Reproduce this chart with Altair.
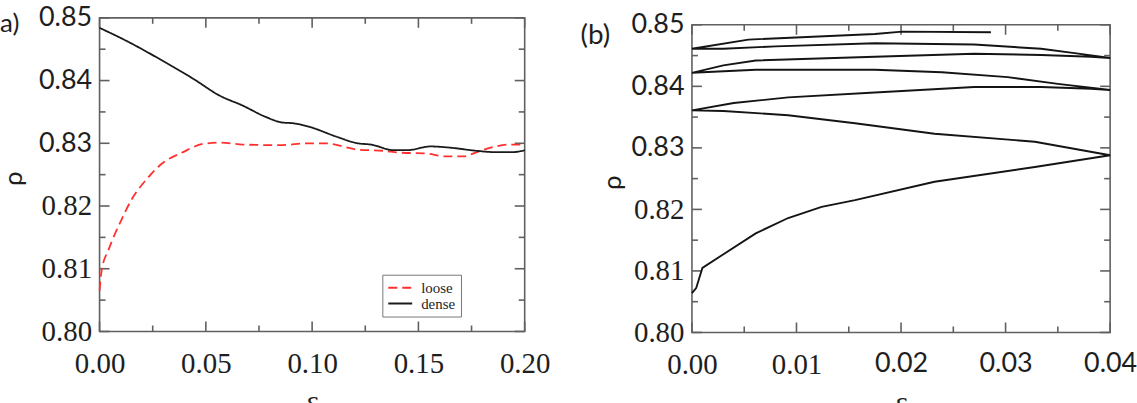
import altair as alt
import pandas as pd

# ---------------- panel (a): density rho vs strain eps ----------------
eps_loose = [0.0, 0.001, 0.0042, 0.0103, 0.015, 0.023, 0.0284, 0.0393, 0.0487, 0.0565,
             0.0674, 0.0846, 0.0987, 0.1057, 0.1213, 0.1338, 0.1416, 0.1526, 0.1635,
             0.1713, 0.1775, 0.1853, 0.1931, 0.2000]
rho_loose = [0.8065, 0.8098, 0.8130, 0.8178, 0.8210, 0.8246, 0.8265, 0.8286, 0.8299, 0.8301,
             0.8298, 0.8297, 0.8300, 0.8300, 0.8290, 0.8288, 0.8285, 0.8284, 0.8279,
             0.8279, 0.8286, 0.8294, 0.8298, 0.8298]

eps_dense = [0.0, 0.0128, 0.0284, 0.0440, 0.0565, 0.0674, 0.0782, 0.0862, 0.0909, 0.0979,
             0.1119, 0.1213, 0.1276, 0.1385, 0.1447, 0.1557, 0.1650, 0.1775, 0.1853,
             0.1947, 0.2000]
rho_dense = [0.8484, 0.8463, 0.8434, 0.8403, 0.8376, 0.8360, 0.8342, 0.8333, 0.8332, 0.8327,
             0.8310, 0.8300, 0.8298, 0.8289, 0.8289, 0.8295, 0.8293, 0.8288, 0.8286,
             0.8286, 0.8289]

# ---------------- panel (b): cyclic shear path ----------------
eps_cycle = [0.0, 0.0004, 0.001, 0.0029, 0.0061, 0.0092, 0.0124, 0.0156, 0.0232, 0.0328, 0.04,
             0.0328, 0.0232, 0.0156, 0.0092, 0.003, 0.0,
             0.004, 0.0092, 0.0175, 0.027, 0.0334, 0.0382, 0.04,
             0.035, 0.0302, 0.0239, 0.0175, 0.0061, 0.0,
             0.003, 0.0061, 0.0175, 0.027, 0.0334, 0.0382, 0.04,
             0.0366, 0.0334, 0.027, 0.0175, 0.008, 0.003, 0.0,
             0.0054, 0.0175, 0.0201, 0.0286]
rho_cycle = [0.8064, 0.8072, 0.8105, 0.8126, 0.8161, 0.8186, 0.8204, 0.8215, 0.8245, 0.8269, 0.8288,
             0.8310, 0.8323, 0.8340, 0.8353, 0.8360, 0.8361,
             0.8373, 0.8382, 0.8390, 0.8399, 0.8399, 0.8396, 0.8394,
             0.8404, 0.8415, 0.8423, 0.8427, 0.8427, 0.8422,
             0.8434, 0.8442, 0.8448, 0.8453, 0.8451, 0.8448, 0.8446,
             0.8454, 0.8461, 0.8468, 0.8470, 0.8465, 0.8461, 0.8461,
             0.8476, 0.8485, 0.8489, 0.8488]

SERIES = ["loose", "dense"]
COLORS = ["#ff3030", "#1a1a1a"]
DASHES = [[9, 5], [1, 0]]

A_X_MAJOR = [0.0, 0.05, 0.10, 0.15, 0.20]
A_X_MINOR = [0.025, 0.075, 0.125, 0.175]
B_X_MAJOR = [0.0, 0.01, 0.02, 0.03, 0.04]
B_X_MINOR = [0.005, 0.015, 0.025, 0.035]
Y_MAJOR = [0.80, 0.81, 0.82, 0.83, 0.84, 0.85]
Y_MINOR = [0.805, 0.815, 0.825, 0.835, 0.845]

# ---------------- styling ----------------
FRAME = "#606060"
FRAME_W = 1.6
MAJOR_LEN, MINOR_LEN = 10, 6
TEXT = "#1e1e1e"
SERIF = "Liberation Serif"
SANS = "Lato"
SERIF_SIZE = 29
SANS_SIZE = 27

A_W, A_H = 427, 315
B_W, B_H = 420, 316


def mixed_font(threshold):
    return {"condition": {"test": f"datum.value >= {threshold}", "value": SANS}, "value": SERIF}


def mixed_size(threshold):
    return {"condition": {"test": f"datum.value >= {threshold}", "value": SANS_SIZE},
            "value": SERIF_SIZE}


def x_axis(values, sans_from=None):
    return alt.Axis(values=values, format=".2f", ticks=False,
                    domain=False, grid=False, labelFlush=False, labelOverlap=False,
                    labelFont=SERIF if sans_from is None else mixed_font(sans_from),
                    labelFontSize=SERIF_SIZE if sans_from is None else mixed_size(sans_from),
                    labelColor=TEXT, labelPadding=18,
                    title="ε", titleFont=SERIF, titleFontSize=29, titleColor=TEXT,
                    titleFontWeight="normal", titlePadding=9)


def y_axis(title_x, title_y):
    return alt.Axis(values=Y_MAJOR, format=".2f", ticks=False, domain=False, grid=False,
                    labelFlush=False, labelOverlap=False,
                    labelFont=mixed_font(0.825), labelFontSize=mixed_size(0.825),
                    labelColor=TEXT, labelPadding=8,
                    title="ρ", titleFont=SANS, titleFontSize=26, titleColor=TEXT,
                    titleFontWeight="normal", titleX=title_x, titleY=title_y,
                    titleAlign="center", titleBaseline="middle", titleAngle=270)


def frame_and_ticks(xsc, ysc, xax, yax, xdom, ydom, x_major, x_minor):
    """Plot frame plus inward major/minor ticks on all four sides."""
    layers = [
        alt.Chart(pd.DataFrame({"k": [0]})).mark_rect(
            fillOpacity=0, stroke=FRAME, strokeWidth=FRAME_W
        ).encode(
            x=alt.XDatum(xdom[0], type="quantitative", scale=xsc, axis=xax),
            x2=alt.X2Datum(xdom[1]),
            y=alt.YDatum(ydom[0], type="quantitative", scale=ysc, axis=yax),
            y2=alt.Y2Datum(ydom[1]),
        )
    ]
    for vals, n in ((x_major, MAJOR_LEN), (x_minor, MINOR_LEN)):
        src = alt.Chart(pd.DataFrame({"v": vals}))
        for edge, sign in ((ydom[0], -1), (ydom[1], 1)):
            layers.append(src.mark_rule(color=FRAME, strokeWidth=FRAME_W, y2Offset=sign * n).encode(
                x=alt.X("v:Q", scale=xsc, axis=xax),
                y=alt.YDatum(edge, type="quantitative", scale=ysc, axis=yax),
                y2=alt.Y2Datum(edge),
            ))
    for vals, n in ((Y_MAJOR, MAJOR_LEN), (Y_MINOR, MINOR_LEN)):
        src = alt.Chart(pd.DataFrame({"v": vals}))
        for edge, sign in ((xdom[0], 1), (xdom[1], -1)):
            layers.append(src.mark_rule(color=FRAME, strokeWidth=FRAME_W, x2Offset=sign * n).encode(
                y=alt.Y("v:Q", scale=ysc, axis=yax),
                x=alt.XDatum(edge, type="quantitative", scale=xsc, axis=xax),
                x2=alt.X2Datum(edge),
            ))
    return layers


def panel_label(text, x, y, size):
    return alt.Chart(pd.DataFrame({"t": [text]})).mark_text(
        align="left", baseline="alphabetic", font=SANS, fontSize=size, color=TEXT
    ).encode(text="t:N", x=alt.value(x), y=alt.value(y))


# ---------------- panel (a) ----------------
xa = alt.Scale(domain=[0.0, 0.2], nice=False, zero=False)
ya = alt.Scale(domain=[0.80, 0.85], nice=False, zero=False)
xa_axis = x_axis(A_X_MAJOR)
ya_axis = y_axis(-86, 161)

df_a = pd.concat([
    pd.DataFrame({"eps": eps_loose, "rho": rho_loose, "packing": "loose",
                  "i": range(len(eps_loose))}),
    pd.DataFrame({"eps": eps_dense, "rho": rho_dense, "packing": "dense",
                  "i": range(len(eps_dense))}),
])

legend = alt.Legend(orient="none", legendX=284, legendY=258, title=None,
                    symbolType="stroke", symbolSize=576, symbolStrokeWidth=2,
                    clipHeight=16, labelFont=SERIF, labelFontSize=15, labelColor=TEXT,
                    labelOffset=8, padding=5, rowPadding=0, strokeColor="#777777",
                    fillColor="white")

lines_a = alt.Chart(df_a).mark_line(strokeWidth=1.8, interpolate="monotone").encode(
    x=alt.X("eps:Q", scale=xa, axis=xa_axis),
    y=alt.Y("rho:Q", scale=ya, axis=ya_axis),
    color=alt.Color("packing:N", scale=alt.Scale(domain=SERIES, range=COLORS), legend=legend),
    strokeDash=alt.StrokeDash("packing:N", scale=alt.Scale(domain=SERIES, range=DASHES),
                              legend=legend),
    order="i:Q",
)

panel_a = alt.layer(
    *frame_and_ticks(xa, ya, xa_axis, ya_axis, (0.0, 0.2), (0.80, 0.85), A_X_MAJOR, A_X_MINOR),
    lines_a,
    panel_label("a)", -100, 14, 26),
).properties(width=A_W, height=A_H)

# ---------------- panel (b) ----------------
xb = alt.Scale(domain=[0.0, 0.04], nice=False, zero=False)
yb = alt.Scale(domain=[0.80, 0.85], nice=False, zero=False, range=[B_H, 7])
xb_axis = x_axis(B_X_MAJOR, sans_from=0.015)
yb_axis = y_axis(-80, 165)

df_b = pd.DataFrame({"eps": eps_cycle, "rho": rho_cycle, "i": range(len(eps_cycle))})

lines_b = alt.Chart(df_b).mark_line(strokeWidth=1.9, color="#141414").encode(
    x=alt.X("eps:Q", scale=xb, axis=xb_axis),
    y=alt.Y("rho:Q", scale=yb, axis=yb_axis),
    order="i:Q",
)

panel_b = alt.layer(
    *frame_and_ticks(xb, yb, xb_axis, yb_axis, (0.0, 0.04), (0.80, 0.85), B_X_MAJOR, B_X_MINOR),
    lines_b,
    panel_label("(b)", -112, 26, 28),
).properties(width=B_W, height=B_H)

chart = alt.hconcat(panel_a, panel_b, spacing=168, bounds="flush").properties(
    padding={"left": 0, "top": 3, "right": 0, "bottom": 0}
).configure(background="white", font=SERIF).configure_view(strokeWidth=0)

chart.save("out.html", embed_options={"renderer": "svg", "actions": False})
